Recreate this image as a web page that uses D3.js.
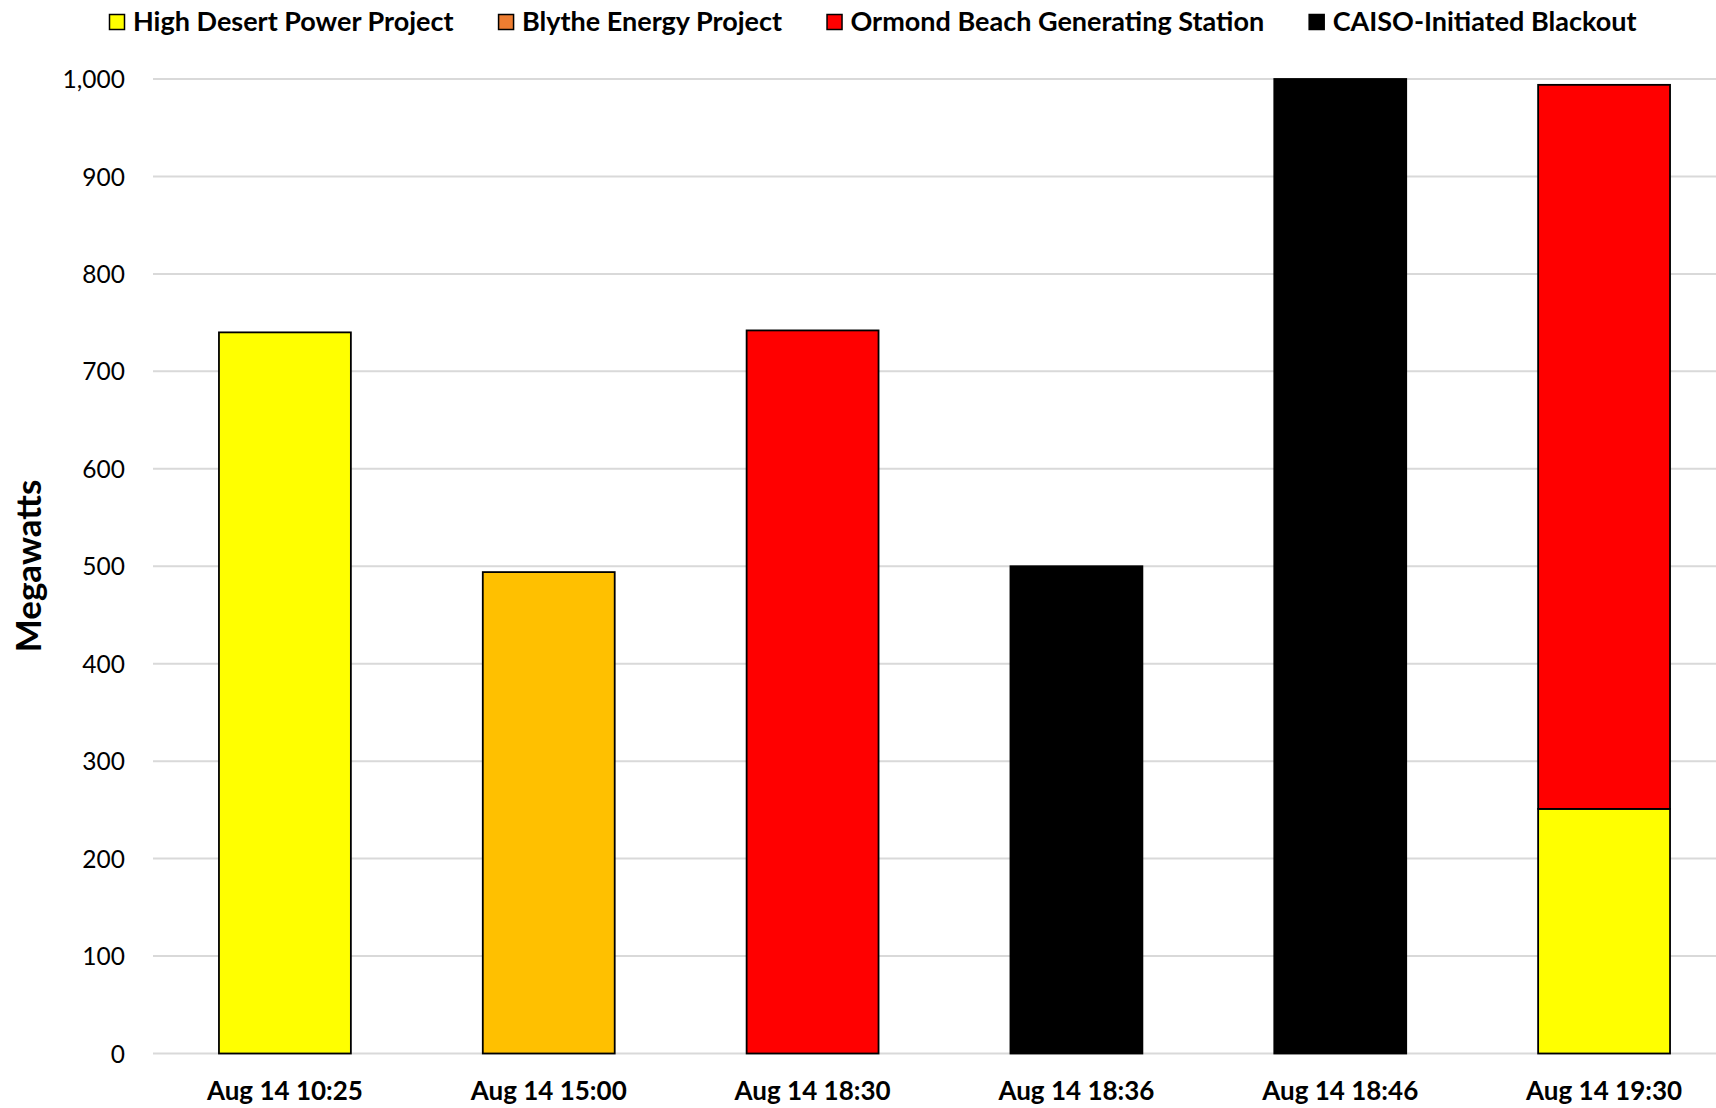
<!DOCTYPE html>
<html>
<head>
<meta charset="utf-8">
<script src="https://cdn.jsdelivr.net/npm/d3@7"></script>
<style>
  html, body { margin: 0; padding: 0; background: #fff; }
  svg { display: block; font-family: Lato, "Open Sans", sans-serif; }
</style>
</head>
<body>
<svg id="chart" width="1716" height="1108"></svg>
<script>
// ---- Data ----
const categories = ["Aug 14 10:25", "Aug 14 15:00", "Aug 14 18:30", "Aug 14 18:36", "Aug 14 18:46", "Aug 14 19:30"];
const seriesNames = ["High Desert Power Project", "Blythe Energy Project", "Ormond Beach Generating Station", "CAISO-Initiated Blackout"];
const highDesert = [740, 0, 0, 0, 0, 251];
const blythe     = [0, 494, 0, 0, 0, 0];
const ormond     = [0, 0, 742, 0, 0, 743];
const caiso      = [0, 0, 0, 500, 1000, 0];
const yTicks     = [0, 100, 200, 300, 400, 500, 600, 700, 800, 900, 1000];
const yTitle     = "Megawatts";

// ---- Styles ----
const barColors    = ["#FFFF00", "#FFC000", "#FF0000", "#000000"];
const legendColors = ["#FFFF00", "#ED7D31", "#FF0000", "#000000"];

const W = 1716, H = 1108;
const plot = { left: 153, right: 1736, top: 79, bottom: 1053.5 };

const svg = d3.select("#chart");

const keys = ["hd", "bl", "or", "ca"];
const table = categories.map((c, i) => ({
  cat: c, hd: highDesert[i], bl: blythe[i], or: ormond[i], ca: caiso[i]
}));
const stacked = d3.stack().keys(keys)(table);

const x = d3.scaleBand().domain(categories)
  .range([plot.left, plot.right]).paddingInner(0.5).paddingOuter(0.25);
const y = d3.scaleLinear().domain([0, 1000]).range([plot.bottom, plot.top]);

// gridlines
svg.append("g").selectAll("line").data(yTicks).join("line")
  .attr("x1", plot.left).attr("x2", W)
  .attr("y1", d => y(d)).attr("y2", d => y(d))
  .attr("stroke", "#d9d9d9").attr("stroke-width", 2);

// y axis labels
const yAxis = d3.axisLeft(y).tickValues(yTicks).tickFormat(d3.format(",")).tickSize(0).tickPadding(0);
const yg = svg.append("g").attr("transform", `translate(${plot.left - 28},0)`).call(yAxis);
yg.select(".domain").remove();
yg.selectAll("text").attr("font-family", "Lato, 'Open Sans', sans-serif")
  .attr("font-size", 24.5).attr("fill", "#000").attr("dy", "0.35em");

// bars
svg.append("g").selectAll("g").data(stacked).join("g")
  .attr("fill", (d, i) => barColors[i])
  .selectAll("rect").data(d => d.filter(s => s[1] - s[0] > 0)).join("rect")
  .attr("x", d => x(d.data.cat))
  .attr("width", x.bandwidth())
  .attr("y", d => y(d[1]))
  .attr("height", d => y(d[0]) - y(d[1]))
  .attr("stroke", "#000").attr("stroke-width", 1.8);

// x axis labels
const xAxis = d3.axisBottom(x).tickSize(0).tickPadding(0);
const xg = svg.append("g").attr("transform", `translate(0,${plot.bottom})`).call(xAxis);
xg.select(".domain").remove();
xg.selectAll("text").attr("font-family", "Lato, 'Open Sans', sans-serif")
  .attr("font-size", 26).attr("font-weight", "bold").attr("fill", "#000")
  .attr("dy", null).attr("y", 46.5);

// y title
svg.append("text")
  .attr("transform", `translate(41,566) rotate(-90)`)
  .attr("text-anchor", "middle")
  .attr("font-size", 35).attr("font-weight", "bold").attr("fill", "#000")
  .text(yTitle);

// legend
const lg = svg.append("g");
let lx = 109.5;
seriesNames.forEach((name, i) => {
  lg.append("rect").attr("x", lx).attr("y", 14.5).attr("width", 15).attr("height", 15)
    .attr("fill", legendColors[i]).attr("stroke", "#000").attr("stroke-width", 1.5);
  const t = lg.append("text").attr("x", lx + 23.5).attr("y", 30.5)
    .attr("font-size", 27.0).attr("font-weight", "bold").attr("fill", "#000").text(name);
  lx += 23.5 + t.node().getComputedTextLength() + 45;
});
</script>
</body>
</html>
